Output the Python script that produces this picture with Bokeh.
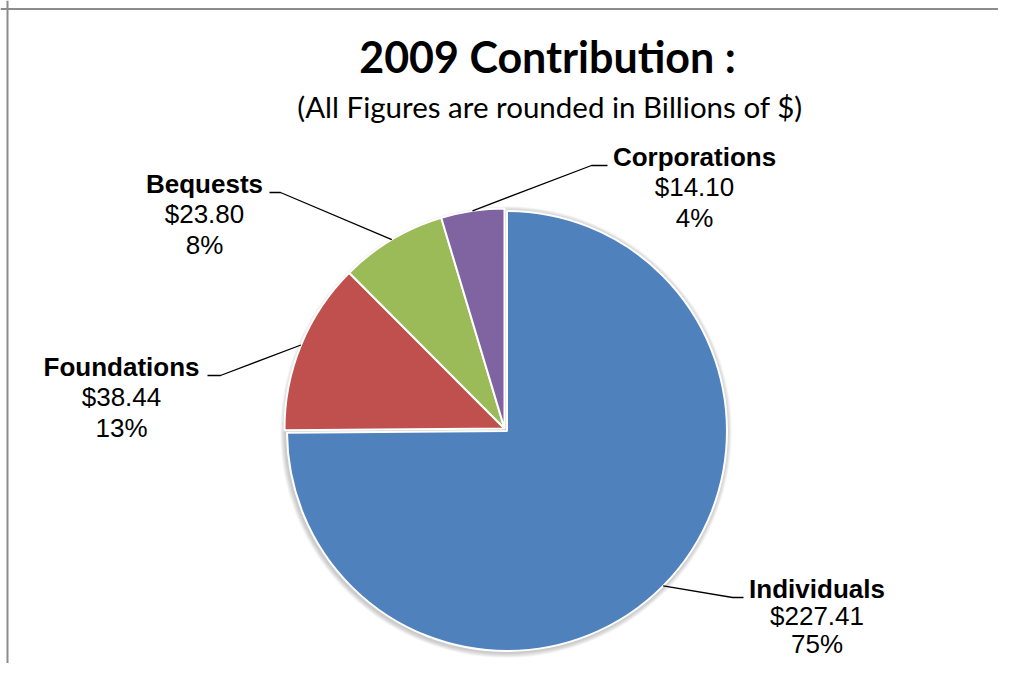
import math
from bokeh.plotting import figure
from bokeh.models import Range1d, Span
from bokeh.core.properties import value
from bokeh.embed import file_html
from bokeh.resources import INLINE

# ---- data ----
categories = ["Individuals", "Foundations", "Bequests", "Corporations"]
amounts = [227.41, 38.44, 23.80, 14.10]
amount_labels = ["$227.41", "$38.44", "$23.80", "$14.10"]
percent_labels = ["75%", "13%", "8%", "4%"]
colors = ["#4F81BD", "#C0504D", "#9BBB59", "#8064A2"]

title_text = "2009 Contribution :"
subtitle_text = "(All Figures are rounded in Billions of $)"

# ---- layout (pixel coordinates; data y = -pixel y) ----
W, H = 998, 663
X0, Y0 = 0, 0
pie_cx, pie_cy, pie_r = 504.0, 428.0, 220.0
explode = [3.5, 0, 0, 0]
label_pos = [(816.5, 598), (121, 376), (204, 193), (694, 166)]
elbows = [[(732, 597), (743, 597)],
          [(220, 375), (207, 375)],
          [(280, 192), (269, 192)],
          [(591, 165), (607, 165)]]
line_gaps = [27.5, 30.5, 30.5, 30.5]
LBL_FS = 26.0
TITLE_FS = 43.0
SUB_FS = 29.5
BASE_FIX = 0.37  # renderer draws text this many em below the requested baseline

def by(pix_baseline, fs):
    return -(pix_baseline - BASE_FIX * fs)

p = figure(width=W, height=H, x_range=Range1d(X0, X0 + W),
           y_range=Range1d(-(Y0 + H), -Y0), output_backend="svg",
           toolbar_location=None, min_border=0,
           x_axis_location=None, y_axis_location=None)
p.grid.visible = False
p.outline_line_color = None
p.background_fill_color = "white"
p.border_fill_color = "white"

# chart border (left and top visible in the window)
p.add_layout(Span(location=7, dimension="height", line_color="#8c8c8c", line_width=2))
p.add_layout(Span(location=-8.5, dimension="width", line_color="#8c8c8c", line_width=2))

total = sum(amounts)
cum = 0.0
starts, ends, cxs, cys, mids = [], [], [], [], []
for v, e in zip(amounts, explode):
    a0 = math.pi / 2 - cum / total * 2 * math.pi
    cum += v
    a1 = math.pi / 2 - cum / total * 2 * math.pi
    mid = (a0 + a1) / 2
    starts.append(a1)
    ends.append(a0)
    mids.append(mid)
    cxs.append(pie_cx + e * math.cos(mid))
    cys.append(-pie_cy + e * math.sin(mid))

# soft shadow
for k in range(1, 7):
    p.circle(x=[pie_cx + 1.5], y=[-pie_cy - 3.5], radius=pie_r + 1 + k * 0.8,
             fill_color="black", fill_alpha=0.035, line_color=None)

p.wedge(x=cxs, y=cys, radius=pie_r, start_angle=starts, end_angle=ends,
        direction="anticlock", fill_color=colors, line_color="white", line_width=2)

# leader lines
for i in range(len(categories)):
    sx = cxs[i] + pie_r * math.cos(mids[i])
    sy = cys[i] + pie_r * math.sin(mids[i])
    xs = [sx] + [pt[0] for pt in elbows[i]]
    ys = [sy] + [-pt[1] for pt in elbows[i]]
    p.line(xs, ys, line_color="black", line_width=1.3)

lx = [lp[0] for lp in label_pos]
p.text(x=lx, y=[by(lp[1], LBL_FS) for lp in label_pos], text=categories,
       text_font=value("Liberation Sans"), text_font_style="bold",
       text_font_size=f"{LBL_FS}px", text_align="center",
       text_baseline="alphabetic", text_color="black")
p.text(x=lx, y=[by(lp[1] + g, LBL_FS) for lp, g in zip(label_pos, line_gaps)],
       text=amount_labels, text_font=value("Liberation Sans"),
       text_font_size=f"{LBL_FS}px", text_align="center",
       text_baseline="alphabetic", text_color="black")
p.text(x=lx, y=[by(lp[1] + 2 * g, LBL_FS) for lp, g in zip(label_pos, line_gaps)],
       text=percent_labels, text_font=value("Liberation Sans"),
       text_font_size=f"{LBL_FS}px", text_align="center",
       text_baseline="alphabetic", text_color="black")

p.text(x=[547], y=[by(72, TITLE_FS)], text=[title_text], text_font=value("Lato"),
       text_font_style="bold", text_font_size=f"{TITLE_FS}px", text_align="center",
       text_baseline="alphabetic", text_color="black")
p.text(x=[549.5], y=[by(117, SUB_FS)], text=[subtitle_text], text_font=value("Lato"),
       text_font_size=f"{SUB_FS}px", text_align="center",
       text_baseline="alphabetic", text_color="black")

open("out.html", "w").write(file_html(p, INLINE))
